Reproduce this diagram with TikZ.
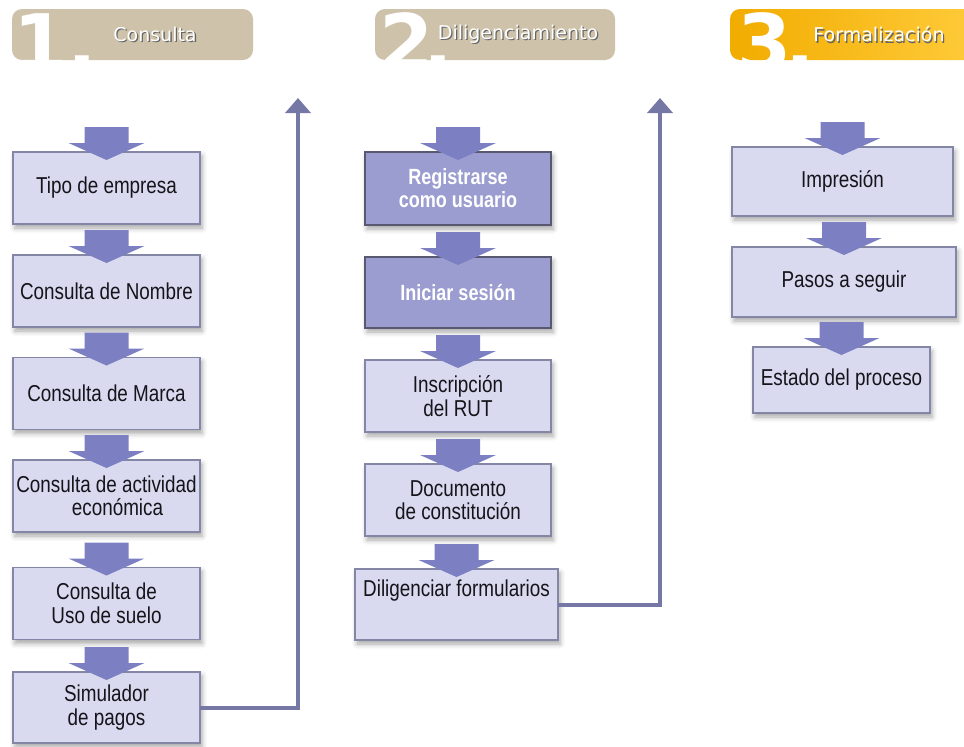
\documentclass[tikz,border=0pt]{standalone}
\usepackage{fontspec}
\setmainfont{Liberation Sans}[FakeStretch=0.82]
\newfontfamily\headfont{DejaVu Sans}
\usetikzlibrary{arrows.meta,shadows.blur,calc}

\definecolor{tanhead}{RGB}{206,195,170}
\definecolor{orangeL}{RGB}{242,172,0}
\definecolor{orangeR}{RGB}{255,204,60}
\definecolor{boxfill}{RGB}{217,218,239}
\definecolor{boxline}{RGB}{132,134,166}
\definecolor{darkfill}{RGB}{155,157,208}
\definecolor{darkline}{RGB}{88,88,112}
\definecolor{arrowfill}{RGB}{124,128,194}
\definecolor{loopline}{RGB}{117,119,165}
\definecolor{textdark}{RGB}{20,20,26}

% block arrow sitting on top of a step box
\newcommand\flowarrow[1]{%
  \fill[arrowfill]
    ([shift={(-22,-25)}]#1.north) -- ([shift={(22,-25)}]#1.north)
    -- ([shift={(22,-9)}]#1.north) -- ([shift={(38,-9)}]#1.north)
    -- ([shift={(0,8)}]#1.north)
    -- ([shift={(-38,-9)}]#1.north) -- ([shift={(-22,-9)}]#1.north) -- cycle;}

% header title with a soft dark drop shadow behind it
\newcommand\shadowtitle[1]{%
  \makebox[0pt][l]{\kern1.3pt\raisebox{-1.5pt}{\color{black!60}#1}}#1}

\begin{document}
\begin{tikzpicture}[x=1pt,y=-1pt,
  stepfont/.style={font=\fontsize{23}{23.5}\selectfont},
  stepbox/.style={stepfont, draw=boxline, line width=1.5pt, fill=boxfill,
    inner sep=0pt, outer sep=0pt, align=center, text=textdark,
    blur shadow={shadow xshift=2pt, shadow yshift=-4pt,
      shadow blur radius=5pt, shadow opacity=35}},
  darkbox/.style={stepbox, fill=darkfill, draw=darkline, text=white,
    font=\fontsize{22}{23}\selectfont\bfseries},
  headtext/.style={font=\headfont\fontsize{19}{20}\selectfont, text=white},
  bignum/.style={font=\headfont\bfseries\fontsize{78}{78}\selectfont,
    text=white, anchor=base west, inner sep=0pt},
  loopconn/.style={draw=loopline, line width=4pt,
    -{Triangle[width=25pt,length=15pt]}}
]
\useasboundingbox (0,0) rectangle (964,747);

% ---- section headers ----
\fill[tanhead, rounded corners=10pt] (12,9) rectangle (253,60);
\node[bignum] (n1) at (13,70) {1.};
\node[headtext] (h1) at (155,35) {\shadowtitle{Consulta}};

\fill[tanhead, rounded corners=10pt] (375,9) rectangle (615,60);
\node[bignum] (n2) at (379,70) {2\kern-10pt.};
\node[headtext] (h2) at (518,35) {\shadowtitle{Diligenciamiento}};

\shade[left color=orangeL, right color=orangeR, rounded corners=10pt]
  (730,9) rectangle (985,60);
\node[bignum] (n3) at (737,70) {3\kern-6pt.};
\node[headtext] (h3) at (879,35) {\shadowtitle{Formalización}};

% ---- column 1: Consulta ----
\node[stepbox, minimum width=187pt, minimum height=72pt] (c1) at (106.5,188) {Tipo de empresa};
\node[stepbox, minimum width=187pt, minimum height=72pt] (c2) at (106.5,291) {Consulta de Nombre};
\node[stepbox, minimum width=187pt, minimum height=72pt] (c3) at (106.5,393.5) {Consulta de Marca};
\node[stepbox, minimum width=187pt, minimum height=72pt] (c4) at (106.5,496) {Consulta de actividad\\\hspace*{22pt}económica};
\node[stepbox, minimum width=187pt, minimum height=72pt] (c5) at (106.5,603.5) {Consulta de\\Uso de suelo};
\node[stepbox, minimum width=187pt, minimum height=71pt] (c6) at (106.5,707.5) {Simulador\\de pagos};

% ---- column 2: Diligenciamiento ----
\node[darkbox, minimum width=186pt, minimum height=73pt] (d1) at (458,188.5) {Registrarse\\como usuario};
\node[darkbox, minimum width=186pt, minimum height=71pt] (d2) at (458,292.5) {Iniciar sesión};
\node[stepbox, minimum width=186pt, minimum height=72pt] (d3) at (458,396) {Inscripción\\del RUT};
\node[stepbox, minimum width=186pt, minimum height=72pt] (d4) at (458,500) {Documento\\de constitución};
\node[stepbox, minimum width=203pt, minimum height=71pt] (d5) at (456.5,604.5) {};
\node[stepfont, text=textdark, inner sep=0pt] (d5t) at (456.5,591) {Diligenciar formularios};

% ---- column 3: Formalización ----
\node[stepbox, minimum width=221pt, minimum height=69pt] (e1) at (842.5,181.5) {Impresión};
\node[stepbox, minimum width=224pt, minimum height=70pt] (e2) at (844,282) {Pasos a seguir};
\node[stepbox, minimum width=177pt, minimum height=66pt] (e3) at (841.5,380) {Estado del proceso};

% ---- block arrows into each step ----
\foreach \b in {c1,c2,c3,c4,c5,c6,d1,d2,d3,d4,d5,e1,e2,e3} {\flowarrow{\b}}

% ---- return connectors to the next stage ----
\coordinate (up1) at (298,98);
\coordinate (up2) at (660,98);
\draw[loopconn] (c6.east) -| (up1);
\draw[loopconn] (d5.east) -| (up2);
\end{tikzpicture}
\end{document}
